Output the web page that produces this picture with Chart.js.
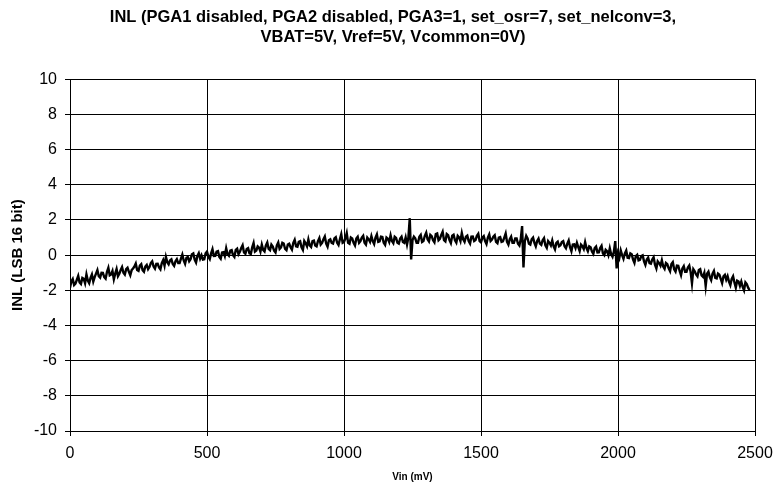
<!DOCTYPE html>
<html>
<head>
<meta charset="utf-8">
<script src="https://cdn.jsdelivr.net/npm/chart.js@4.4.1/dist/chart.umd.min.js"></script>
<style>
  html, body { margin: 0; padding: 0; background: #fff; }
  #wrap { width: 774px; height: 485px; }
</style>
</head>
<body>
<div id="wrap"><canvas id="c" width="774" height="485"></canvas></div>
<script>
// ---- data ----
const titleLines = [
  'INL (PGA1 disabled, PGA2 disabled, PGA3=1, set_osr=7, set_nelconv=3,',
  'VBAT=5V, Vref=5V, Vcommon=0V)'
];
const xAxisTitle = 'Vin (mV)';
const yAxisTitle = 'INL (LSB 16 bit)';
const xTicks = [0, 500, 1000, 1500, 2000, 2500];
const yTicks = [-10, -8, -6, -4, -2, 0, 2, 4, 6, 8, 10];

// input voltage of each sample (mV)
const vin = [
  0,5,10,15,20,25,30,35,40,45,50,55,60,65,70,75,80,85,90,95,
  100,105,110,115,120,125,130,135,140,145,150,155,160,165,170,175,180,185,190,195,
  200,205,210,215,220,225,230,235,240,245,250,255,260,265,270,275,280,285,290,295,
  300,305,310,315,320,325,330,335,340,345,350,355,360,365,370,375,380,385,390,395,
  400,405,410,415,420,425,430,435,440,445,450,455,460,465,470,475,480,485,490,495,
  500,505,510,515,520,525,530,535,540,545,550,555,560,565,570,575,580,585,590,595,
  600,605,610,615,620,625,630,635,640,645,650,655,660,665,670,675,680,685,690,695,
  700,705,710,715,720,725,730,735,740,745,750,755,760,765,770,775,780,785,790,795,
  800,805,810,815,820,825,830,835,840,845,850,855,860,865,870,875,880,885,890,895,
  900,905,910,915,920,925,930,935,940,945,950,955,960,965,970,975,980,985,990,995,
  1000,1005,1010,1015,1020,1025,1030,1035,1040,1045,1050,1055,1060,1065,1070,1075,1080,1085,1090,1095,
  1100,1105,1110,1115,1120,1125,1130,1135,1140,1145,1150,1155,1160,1165,1170,1175,1180,1185,1190,1195,
  1200,1205,1210,1215,1220,1225,1230,1235,1240,1245,1250,1255,1260,1265,1270,1275,1280,1285,1290,1295,
  1300,1305,1310,1315,1320,1325,1330,1335,1340,1345,1350,1355,1360,1365,1370,1375,1380,1385,1390,1395,
  1400,1405,1410,1415,1420,1425,1430,1435,1440,1445,1450,1455,1460,1465,1470,1475,1480,1485,1490,1495,
  1500,1505,1510,1515,1520,1525,1530,1535,1540,1545,1550,1555,1560,1565,1570,1575,1580,1585,1590,1595,
  1600,1605,1610,1615,1620,1625,1630,1635,1640,1645,1650,1655,1660,1665,1670,1675,1680,1685,1690,1695,
  1700,1705,1710,1715,1720,1725,1730,1735,1740,1745,1750,1755,1760,1765,1770,1775,1780,1785,1790,1795,
  1800,1805,1810,1815,1820,1825,1830,1835,1840,1845,1850,1855,1860,1865,1870,1875,1880,1885,1890,1895,
  1900,1905,1910,1915,1920,1925,1930,1935,1940,1945,1950,1955,1960,1965,1970,1975,1980,1985,1990,1995,
  2000,2005,2010,2015,2020,2025,2030,2035,2040,2045,2050,2055,2060,2065,2070,2075,2080,2085,2090,2095,
  2100,2105,2110,2115,2120,2125,2130,2135,2140,2145,2150,2155,2160,2165,2170,2175,2180,2185,2190,2195,
  2200,2205,2210,2215,2220,2225,2230,2235,2240,2245,2250,2255,2260,2265,2270,2275,2280,2285,2290,2295,
  2300,2305,2310,2315,2320,2325,2330,2335,2340,2345,2350,2355,2360,2365,2370,2375,2380,2385,2390,2395,
  2400,2405,2410,2415,2420,2425,2430,2435,2440,2445,2450,2455,2460,2465,2470,2475,2480
];

// INL of each sample (LSB 16 bit)
const inl = [
  -1.85,-1.5,-1.36,-1.7,-1.62,-1.4,-1.18,-1.55,-1.64,-1.3,-1.35,-1.6,-1.1,-1.45,-1.6,-1.3,-1.1,-1.5,-1.25,-1.05,
  -0.85,-1.2,-1.28,-1.0,-1.01,-1.25,-1.34,-0.95,-0.72,-1.15,-1.1,-0.9,-1.37,-1.05,-0.79,-1.2,-1.06,-0.85,-0.68,-1.0,
  -1.1,-0.8,-0.72,-0.95,-1.14,-0.85,-0.76,-0.65,-0.48,-0.85,-0.9,-0.6,-0.52,-0.85,-0.94,-0.65,-0.56,-0.8,-0.68,-0.45,
  -0.35,-0.65,-0.77,-0.5,-0.49,-0.7,-0.81,-0.45,-0.28,-0.6,-0.1,-0.4,-0.52,-0.3,-0.24,-0.5,-0.61,-0.35,-0.23,-0.45,
  -0.45,-0.2,0.03,-0.3,-0.49,-0.15,-0.11,-0.35,-0.23,0.05,0.1,-0.25,-0.42,-0.05,0.11,-0.2,-0.01,-0.25,-0.23,0.1,
  0.2,-0.1,-0.23,0.1,0.34,-0.05,-0.04,0.2,0.23,-0.1,-0.2,0.15,0.17,-0.05,0.39,0.05,-0.04,0.25,0.28,0.0,
  -0.1,0.3,0.37,0.05,0.19,0.4,0.56,0.15,0.08,0.35,0.4,0.1,0.07,0.45,0.69,0.2,0.26,0.5,0.43,0.2,
  0.6,0.3,0.21,0.55,0.72,0.35,0.28,0.6,0.49,0.25,0.15,0.55,0.72,0.35,0.44,0.7,0.66,0.35,0.28,0.6,
  0.65,0.45,0.31,0.7,0.87,0.5,0.48,0.75,0.79,0.45,0.3,0.8,0.67,0.5,0.89,0.55,0.46,0.8,0.83,0.55,
  0.5,0.8,0.97,0.6,0.69,0.9,1.06,0.65,0.48,0.85,0.9,0.7,0.66,0.95,1.02,0.7,0.58,0.9,1.19,0.7,
  0.75,0.95,1.25,0.7,0.65,1.0,0.95,0.7,0.55,0.95,1.05,0.7,0.8,1.0,1.1,0.7,0.6,1.0,0.9,0.75,
  1.08,0.8,0.63,1.0,1.18,0.75,0.78,1.05,1.03,0.7,0.58,1.0,0.93,0.75,1.13,0.8,0.68,1.05,0.98,0.7,
  0.65,0.95,1.05,0.75,0.7,1.0,0.6,1.0,2.1,-0.25,0.85,1.05,0.95,0.7,0.7,1.05,1.15,0.75,0.8,1.1,
  1.28,0.9,0.78,1.15,1.08,0.85,0.73,1.2,1.23,0.85,0.93,1.15,1.33,0.85,0.78,1.2,1.13,0.85,0.68,1.1,
  1.16,0.85,0.71,1.1,1.01,0.8,1.26,0.9,0.76,1.05,1.11,0.8,0.66,1.05,1.06,0.8,0.86,1.1,1.21,0.8,
  0.73,1.0,1.08,0.8,0.63,1.0,1.18,0.8,0.88,1.05,1.13,0.75,0.68,1.0,1.03,0.75,0.78,1.0,1.23,0.75,
  0.6,0.9,1.05,0.7,0.7,0.95,0.95,0.65,0.55,0.9,1.65,-0.7,0.8,1.1,0.95,0.65,0.6,0.9,1.0,0.7,
  0.5,0.8,0.94,0.65,0.58,0.85,0.97,0.55,0.41,0.8,0.7,0.55,0.84,0.5,0.33,0.7,0.77,0.5,0.56,0.75,
  0.8,0.5,0.39,0.65,0.83,0.45,0.22,0.6,0.61,0.4,0.7,0.45,0.23,0.6,0.51,0.35,0.74,0.4,0.22,0.5,
  0.45,0.2,0.07,0.4,0.49,0.15,0.16,0.4,0.53,0.1,0.0,0.3,0.22,0.0,0.39,0.05,-0.09,0.2,0.8,-0.75,
  0.1,-0.15,0.27,0.0,-0.21,0.1,0.26,-0.15,-0.17,0.1,0.05,-0.25,-0.44,-0.05,0.02,-0.3,-0.27,-0.05,-0.01,-0.35,
  -0.55,-0.25,-0.14,-0.45,-0.48,-0.25,-0.12,-0.55,-0.76,-0.35,-0.45,-0.6,-0.29,-0.65,-0.78,-0.45,-0.52,-0.75,-0.91,-0.5,
  -0.4,-0.8,-0.93,-0.6,-0.61,-0.9,-1.14,-0.75,-0.62,-0.95,-0.95,-0.7,-0.59,-0.95,-1.6,-0.8,-0.92,-1.1,-1.21,-0.85,
  -0.8,-1.15,-1.23,-1.0,-1.75,-1.05,-0.94,-1.25,-1.42,-1.05,-0.9,-1.3,-1.33,-1.05,-1.11,-1.35,-1.59,-1.2,-1.12,-1.4,
  -1.2,-1.5,-1.7,-1.35,-1.2,-1.55,-1.85,-1.45,-1.5,-1.75,-1.5,-1.8,-2.0,-1.55,-1.65,-1.85,-2.0
];

// ---- chart ----
const FONT = "'Liberation Sans', Arial, sans-serif";
const points = vin.map((v, i) => ({ x: v, y: inl[i] }));

new Chart(document.getElementById('c'), {
  type: 'line',
  data: {
    datasets: [{
      data: points,
      borderColor: '#000',
      borderWidth: 2.4,
      pointRadius: 0,
      tension: 0,
      fill: false
    }]
  },
  options: {
    responsive: false,
    animation: false,
    events: [],
    layout: { padding: { left: 12, right: 0, top: 0, bottom: 0 } },
    plugins: {
      legend: { display: false },
      tooltip: { enabled: false },
      title: {
        display: true,
        text: titleLines,
        color: '#000',
        font: { family: FONT, size: 16.5, weight: 'bold', lineHeight: 1.22 },
        padding: { top: 7, bottom: 32 }
      }
    },
    scales: {
      x: {
        type: 'linear',
        min: xTicks[0],
        max: xTicks[xTicks.length - 1],
        afterBuildTicks: s => { s.ticks = xTicks.map(v => ({ value: v })); },
        afterFit: s => { s.height = 54; s.paddingRight = 19; },
        ticks: { color: '#000', font: { family: FONT, size: 16 }, padding: 8, maxRotation: 0,
                 callback: v => String(v) },
        grid: { color: '#000', lineWidth: 1, tickLength: 5, drawTicks: true },
        border: { display: true, color: '#000', width: 1 },
        title: {
          display: true, text: xAxisTitle, color: '#000',
          font: { family: FONT, size: 10, weight: 'bold' }, padding: 2
        }
      },
      y: {
        type: 'linear',
        min: yTicks[0],
        max: yTicks[yTicks.length - 1],
        afterBuildTicks: s => { s.ticks = yTicks.map(v => ({ value: v })); },
        afterFit: s => { s.width = 58; },
        ticks: { color: '#000', font: { family: FONT, size: 16 }, padding: 8,
                 callback: v => String(v) },
        grid: { color: '#000', lineWidth: 1, tickLength: 5, drawTicks: true },
        border: { display: true, color: '#000', width: 1 },
        title: {
          display: true, text: yAxisTitle, color: '#000',
          font: { family: FONT, size: 15, weight: 'bold' }, padding: -3
        }
      }
    }
  }
});
</script>
</body>
</html>
